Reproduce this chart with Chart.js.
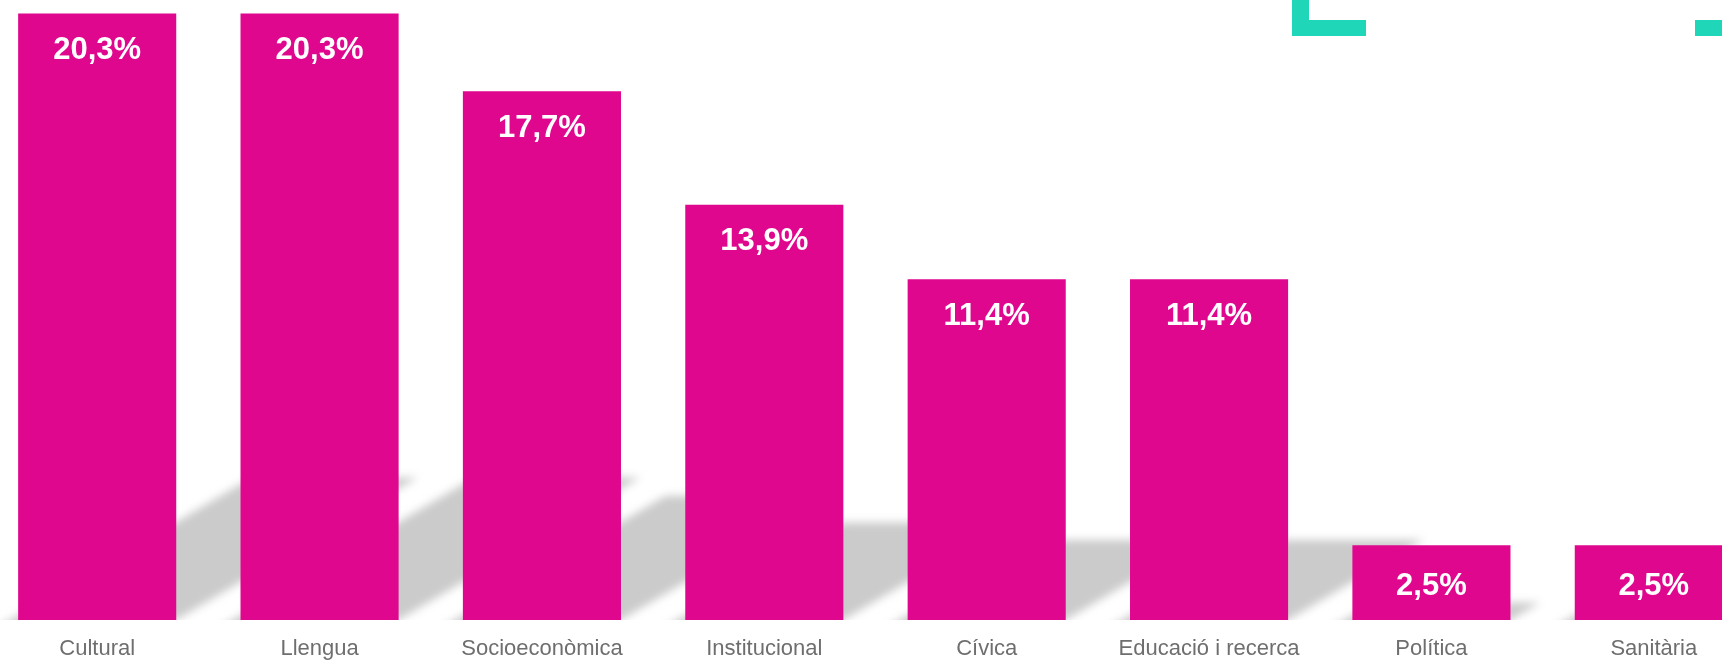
<!DOCTYPE html>
<html>
<head>
<meta charset="utf-8">
<script src="https://cdn.jsdelivr.net/npm/chart.js@4"></script>
<style>
  html, body { margin: 0; padding: 0; background: #ffffff; overflow: hidden; width: 1722px; height: 660px; }
  #wrap { position: absolute; left: -14px; top: 0; width: 1779px; height: 660px; }
  .deco { position: absolute; background: #20d6b9; }
</style>
</head>
<body>
<div id="wrap"><canvas id="c"></canvas></div>
<div class="deco" style="left:1292px; top:0; width:17px; height:36px;"></div>
<div class="deco" style="left:1292px; top:20px; width:74px; height:16px;"></div>
<div class="deco" style="left:1695px; top:20px; width:27px; height:16px;"></div>
<script>
const categories = ['Cultural', 'Llengua', 'Socioeconòmica', 'Institucional', 'Cívica', 'Educació i recerca', 'Política', 'Sanitària'];
const values = [20.3, 20.3, 17.7, 13.9, 11.4, 11.4, 2.5, 2.5];
const valueLabels = values.map(v => v.toFixed(1).replace('.', ',') + '%');

const shadowPlugin = {
  id: 'floorShadow',
  beforeDatasetsDraw(chart) {
    const ctx = chart.ctx;
    const meta = chart.getDatasetMeta(0);
    ctx.save();
    ctx.beginPath();
    ctx.rect(-100, 0, chart.width + 200, chart.chartArea.bottom);
    ctx.clip();
    ctx.filter = 'blur(4px)';
    ctx.fillStyle = '#cbcbcb';
    const k = 0.59, e = 14;
    meta.data.forEach(bar => {
      const p = bar.getProps(['x', 'y', 'base', 'width'], true);
      const xL = p.x - p.width / 2 - 8, xR = p.x + p.width / 2;
      const h = p.base - p.y;
      const d = 0.235 * h;
      const dx = d / k;
      ctx.beginPath();
      ctx.moveTo(xL - e / k, p.base + e);
      ctx.lineTo(xR - e / k, p.base + e);
      ctx.lineTo(xR + dx, p.base - d);
      ctx.lineTo(xL + dx, p.base - d);
      ctx.closePath();
      ctx.fill();
    });
    ctx.restore();
  }
};

const labelPlugin = {
  id: 'valueLabels',
  afterDatasetsDraw(chart) {
    const ctx = chart.ctx;
    const meta = chart.getDatasetMeta(0);
    ctx.save();
    ctx.fillStyle = '#ffffff';
    ctx.font = 'bold 31px "Liberation Sans", Arial, sans-serif';
    ctx.textAlign = 'center';
    ctx.textBaseline = 'middle';
    meta.data.forEach((bar, i) => {
      const p = bar.getProps(['x', 'y', 'base'], true);
      const h = p.base - p.y;
      const off = h < 100 ? h * 0.55 : 37;
      ctx.fillText(valueLabels[i], p.x, p.y + off);
    });
    ctx.restore();
  }
};

new Chart(document.getElementById('c'), {
  type: 'bar',
  data: {
    labels: categories,
    datasets: [{
      data: values,
      backgroundColor: '#e0078f',
      borderWidth: 0,
      barPercentage: 0.711,
      categoryPercentage: 1.0
    }]
  },
  options: {
    responsive: true,
    maintainAspectRatio: false,
    animation: false,
    devicePixelRatio: 1,
    layout: { padding: 0 },
    plugins: { legend: { display: false }, tooltip: { enabled: false } },
    scales: {
      x: {
        offset: true,
        grid: { display: false, drawTicks: false },
        border: { display: false },
        afterFit(scale) { scale.height = 40; },
        ticks: {
          color: '#6e6e6e',
          padding: 16,
          maxRotation: 0,
          autoSkip: false,
          font: { family: '"Liberation Sans", Arial, sans-serif', size: 22 }
        }
      },
      y: {
        display: false,
        min: 0,
        max: 20.75
      }
    }
  },
  plugins: [shadowPlugin, labelPlugin]
});
</script>
</body>
</html>
